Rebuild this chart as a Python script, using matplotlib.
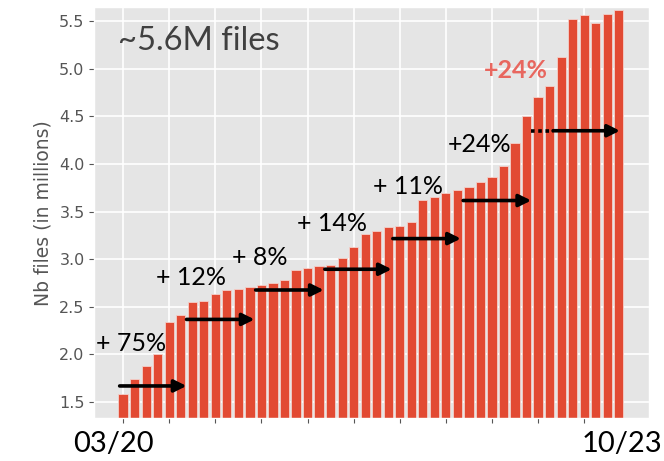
import numpy as np
import matplotlib.pyplot as plt

plt.style.use("ggplot")

# monthly file counts (millions), 03/20 .. 10/23
months = np.arange(44)
files_millions = [
    1.584, 1.742, 1.879, 1.999, 2.342, 2.409, 2.553, 2.563, 2.637, 2.673,
    2.683, 2.704, 2.732, 2.753, 2.779, 2.883, 2.907, 2.928, 2.939, 3.013,
    3.128, 3.268, 3.293, 3.342, 3.349, 3.392, 3.623, 3.658, 3.693, 3.728,
    3.763, 3.809, 3.858, 3.978, 4.223, 4.507, 4.707, 4.823, 5.128, 5.528,
    5.567, 5.483, 5.578, 5.613,
]
first_label = "03/20"
last_label = "10/23"

# growth arrows: (start, end, level) in month index / millions
arrows = [
    (-0.3, 5.5, 1.668),
    (5.5, 11.4, 2.367),
    (11.5, 17.4, 2.676),
    (17.5, 23.3, 2.894),
    (23.4, 29.3, 3.216),
    (29.5, 35.4, 3.616),
    (37.3, 43.1, 4.349),
]
growth_labels = ["+ 75%", "+ 12%", "+ 8%", "+ 14%", "+ 11%", "+24%"]
growth_label_pos = [
    (-2.35, 2.118), (2.85, 2.807), (9.45, 3.018),
    (15.1, 3.376), (21.7, 3.760), (28.2, 4.202),
]

fig = plt.figure(figsize=(6.64, 4.61), dpi=100)
ax = fig.add_axes([0.142, 0.093, 0.835, 0.891])

ax.bar(months, files_millions, width=0.8, color="#E24A33",
       edgecolor="#F4D0CA", linewidth=0.6)

ax.set_xlim(-2.5, 45.6)
ax.set_ylim(1.33, 5.645)
ax.set_yticks(np.arange(1.5, 5.51, 0.5))
ax.set_yticklabels([f"{v:.1f}" for v in np.arange(1.5, 5.51, 0.5)],
                   fontsize=11.5, color="#555555")
ax.set_xticks(months[::4])
ax.set_xticklabels([])
ax.set_ylabel("Nb files (in millions)", fontsize=13.5, color="#555555",
              labelpad=5)
ax.grid(True, color="white", linewidth=1.2)

txt_font = ["Lato", "DejaVu Sans"]

for x0, x1, lvl in arrows:
    ax.annotate("", xy=(x1, lvl), xytext=(x0, lvl),
                arrowprops=dict(arrowstyle="-|>", color="black", lw=2.6,
                                mutation_scale=18, shrinkA=0, shrinkB=0))
# dotted lead-in for the last arrow
ax.plot([35.4, 37.3], [4.349, 4.349], color="black", lw=2.6,
        linestyle=(0, (1.0, 1.0)))

for lab, (x, y) in zip(growth_labels, growth_label_pos):
    ax.text(x, y, lab, fontsize=18, family=txt_font, color="black",
            ha="left", va="center")

ax.text(31.3, 4.986, "+24%", fontsize=18, family=txt_font, color="#E8675F",
        fontweight="bold", ha="left", va="center")
ax.text(-0.45, 5.292, "~5.6M files", fontsize=23.5, family=txt_font,
        color="#404040", ha="left", va="center")

tr = ax.get_xaxis_transform()
ax.text(-0.8, -0.063, first_label, transform=tr, fontsize=21,
        family=txt_font, color="black", ha="center", va="center")
ax.text(43.3, -0.063, last_label, transform=tr, fontsize=21,
        family=txt_font, color="black", ha="center", va="center")

fig.savefig("out.png", dpi=100)
